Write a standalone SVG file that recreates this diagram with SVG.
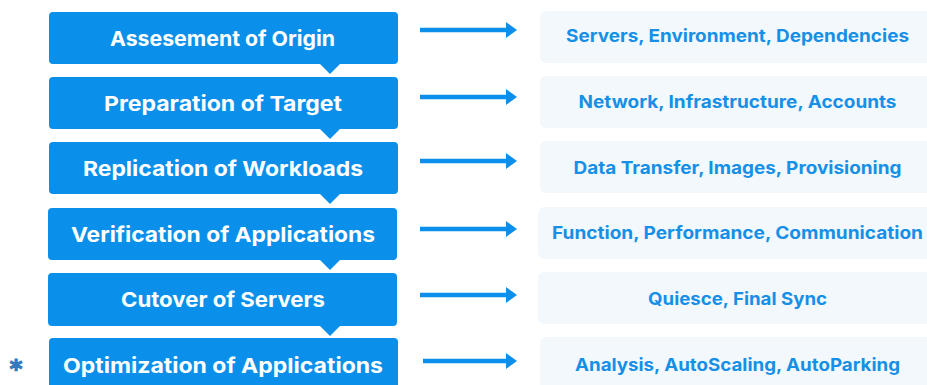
<svg xmlns="http://www.w3.org/2000/svg" width="927" height="385" viewBox="0 0 927 385">
<style>
.step{fill:#0a90ea}
.ptr{fill:#0a90ea}
.st{font-family:Inter,"Open Sans","Liberation Sans",sans-serif;font-weight:700;font-size:20.5px;fill:#ffffff;text-anchor:middle}
.det{fill:#f3f8fd}
.dt{font-family:Inter,"Open Sans","Liberation Sans",sans-serif;font-weight:700;font-size:17.5px;fill:#1690e6;text-anchor:middle}
.arr{stroke:#0a90ea;stroke-width:4.5;fill:none}
.ah{fill:#0a90ea}
.ast{font-family:"DejaVu Sans",sans-serif;font-weight:700;font-size:24px;fill:#3579bd;stroke:#3579bd;stroke-width:1.2;text-anchor:middle}
</style>
<rect width="927" height="385" fill="#ffffff"/>
<g id="details">
<g id="d1"><rect class="det" x="540" y="11" width="400" height="52" rx="6"/><text class="dt" x="737.5" y="42" textLength="343" lengthAdjust="spacingAndGlyphs">Servers, Environment, Dependencies</text></g>
<g id="d2"><rect class="det" x="540" y="76" width="400" height="52" rx="6"/><text class="dt" x="737.5" y="108" textLength="318" lengthAdjust="spacingAndGlyphs">Network, Infrastructure, Accounts</text></g>
<g id="d3"><rect class="det" x="540" y="141" width="400" height="52" rx="6"/><text class="dt" x="737.5" y="174" textLength="328" lengthAdjust="spacingAndGlyphs">Data Transfer, Images, Provisioning</text></g>
<g id="d4"><rect class="det" x="538" y="207" width="400" height="52" rx="6"/><text class="dt" x="737.5" y="239" textLength="371" lengthAdjust="spacingAndGlyphs">Function, Performance, Communication</text></g>
<g id="d5"><rect class="det" x="538" y="272" width="400" height="52" rx="6"/><text class="dt" x="737.5" y="305" textLength="179" lengthAdjust="spacingAndGlyphs">Quiesce, Final Sync</text></g>
<g id="d6"><rect class="det" x="540" y="337" width="400" height="52" rx="6"/><text class="dt" x="737.5" y="371" textLength="325" lengthAdjust="spacingAndGlyphs">Analysis, AutoScaling, AutoParking</text></g>
</g>
<g id="connectors">
<path class="arr" d="M420 30H508"/><path class="ah" d="M506 22L517 30L506 38Z"/>
<path class="arr" d="M420 97H508"/><path class="ah" d="M506 89L517 97L506 105Z"/>
<path class="arr" d="M420 161H508"/><path class="ah" d="M506 153L517 161L506 169Z"/>
<path class="arr" d="M420 229H508"/><path class="ah" d="M506 221L517 229L506 237Z"/>
<path class="arr" d="M420 295H508"/><path class="ah" d="M506 287L517 295L506 303Z"/>
<path class="arr" d="M423 361H508"/><path class="ah" d="M506 353L517 361L506 369Z"/>
</g>
<g id="steps">
<g id="s1"><rect class="step" x="49" y="12" width="349" height="52" rx="4"/><path class="ptr" d="M319 63H341L330 74Z"/><text class="st" x="222.5" y="46" textLength="225" lengthAdjust="spacingAndGlyphs">Assesement of Origin</text></g>
<g id="s2"><rect class="step" x="49" y="77" width="349" height="52" rx="4"/><path class="ptr" d="M319 128H341L330 139Z"/><text class="st" x="223" y="111" textLength="238" lengthAdjust="spacingAndGlyphs">Preparation of Target</text></g>
<g id="s3"><rect class="step" x="49" y="142" width="349" height="52" rx="4"/><path class="ptr" d="M319 193H341L330 204Z"/><text class="st" x="223" y="176" textLength="280" lengthAdjust="spacingAndGlyphs">Replication of Workloads</text></g>
<g id="s4"><rect class="step" x="48" y="208" width="349" height="52" rx="4"/><path class="ptr" d="M319 259H341L330 270Z"/><text class="st" x="223" y="242" textLength="304" lengthAdjust="spacingAndGlyphs">Verification of Applications</text></g>
<g id="s5"><rect class="step" x="48" y="273" width="349" height="53" rx="4"/><path class="ptr" d="M319 325H341L330 336Z"/><text class="st" x="223" y="307" textLength="204" lengthAdjust="spacingAndGlyphs">Cutover of Servers</text></g>
<g id="s6"><rect class="step" x="49" y="338" width="349" height="52" rx="4"/><text class="st" x="223" y="373" textLength="320" lengthAdjust="spacingAndGlyphs">Optimization of Applications</text></g>
<text id="asterisk" class="ast" x="16" y="377">*</text>
</g>
</svg>
